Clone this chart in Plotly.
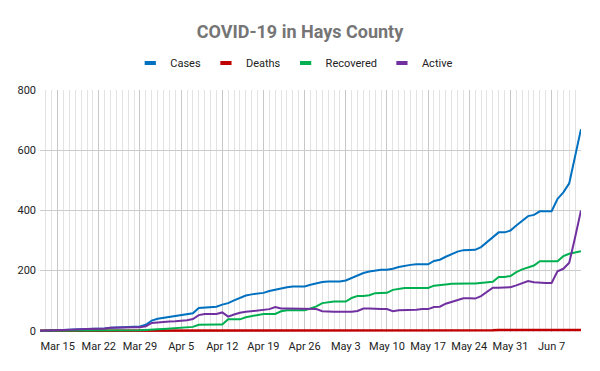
import pandas as pd
import plotly.graph_objects as go

start_date = "2020-03-12"
n_days = 93
dates = pd.date_range(start_date, periods=n_days, freq="D")

cases = [0, 0, 1, 2, 3, 3, 4, 5, 6, 6, 7, 8, 10, 11, 12, 12, 13, 14,
         20, 34, 40, 43, 45, 47, 50, 54, 58, 76, 78, 78, 80, 87, 92, 101, 109, 117, 121, 124,
         126, 132, 137, 142, 145, 147, 147, 147, 153, 158, 162, 164, 164, 164, 167, 176, 183, 192,
         197, 201, 203, 203, 206, 212, 216, 219, 221, 221, 221, 232, 236, 246, 255, 263, 268, 269,
         269, 278, 295, 311, 327, 327, 333, 350, 366, 381, 385, 397, 397, 397, 438, 460, 490, 577, 670]

deaths = [0] * 25 + [1] * 34 + [2] * 19 + [3] * 15

recovered = [0] * 16 + [1, 2,
             3, 5, 5, 6, 7, 8, 9, 11, 13, 20, 21, 21, 21, 21, 38, 38, 38, 45, 48, 52,
             56, 56, 56, 65, 68, 68, 68, 68, 74, 81, 92, 95, 97, 97, 97, 109, 116, 116,
             118, 125, 126, 126, 136, 139, 142, 142, 142, 142, 142, 150, 153, 154, 156, 157, 157, 157,
             157, 159, 163, 163, 179, 179, 182, 195, 204, 211, 217, 231, 231, 231, 231, 248, 256, 260, 264]

active = [0, 0, 1, 2, 3, 3, 4, 5, 6, 6, 7, 8, 10, 11, 12, 12, 12, 12,
          15, 26, 28, 31, 31, 32, 33, 35, 39, 52, 56, 56, 56, 61, 47, 54, 60, 63, 65, 67,
          68, 72, 79, 74, 74, 74, 74, 74, 74, 72, 65, 63, 63, 63, 63, 63, 66, 74,
          74, 72, 72, 72, 65, 68, 68, 68, 70, 72, 72, 79, 80, 90, 96, 104, 108, 108,
          107, 115, 129, 143, 143, 143, 145, 151, 159, 165, 161, 159, 159, 159, 198, 206, 226, 311, 400]

series_names = ["Cases", "Deaths", "Recovered", "Active"]
series_values = [cases, deaths, recovered, active]
series_colors = ["#0070C0", "#C00000", "#00B050", "#7030A0"]
series_widths = [2, 2.5, 2, 2]

tick_dates = pd.date_range("2020-03-15", "2020-06-07", freq="7D")
tick_labels = ["Mar 15", "Mar 22", "Mar 29", "Apr 5", "Apr 12", "Apr 19", "Apr 26",
               "May 3", "May 10", "May 17", "May 24", "May 31", "Jun 7"]
y_ticks = [0, 200, 400, 600, 800]

FONT = "Roboto, Liberation Sans, Arial, sans-serif"

fig = go.Figure()
for name, vals, col, w in zip(series_names, series_values, series_colors, series_widths):
    fig.add_trace(go.Scatter(x=dates, y=vals, mode="lines", name=name,
                             line=dict(color=col, width=w), showlegend=False,
                             legendgroup=name))
for name, col in zip(series_names, series_colors):
    fig.add_trace(go.Scatter(x=[None], y=[None], mode="markers", name=name,
                             marker=dict(symbol="line-ew", size=8, color=col,
                                         line=dict(width=4, color=col)),
                             legendgroup=name))

fig.update_layout(
    width=600, height=371,
    margin=dict(l=40, r=19, t=90, b=39, autoexpand=False),
    paper_bgcolor="white", plot_bgcolor="white",
    title=dict(text="<b>COVID-19 in Hays County</b>", x=0.5, xanchor="center",
               y=1 - 32 / 371, yanchor="middle",
               font=dict(family=FONT, size=18, color="#757575")),
    legend=dict(orientation="h", x=0.47, xanchor="center",
                yref="container", y=1 - 63 / 371, yanchor="middle",
                font=dict(family=FONT, size=11, color="#222222"),
                itemwidth=30, bgcolor="rgba(0,0,0,0)"),
    xaxis=dict(type="date", range=[dates[0], dates[-1]],
               tickmode="array", tickvals=tick_dates, ticktext=tick_labels,
               tickangle=0, ticklabelstandoff=6,
               showgrid=True, gridcolor="#c8c8c8", gridwidth=1,
               minor=dict(tickmode="linear", tick0=start_date, dtick=86400000,
                          showgrid=True, gridcolor="#e3e3e3", gridwidth=1),
               tickfont=dict(family=FONT, size=11, color="#222222"),
               showline=False, zeroline=False, ticks=""),
    yaxis=dict(range=[-4, 800], tickmode="array", tickvals=y_ticks,
               ticklabelstandoff=3,
               showgrid=True, gridcolor="#cccccc", gridwidth=1,
               zeroline=True, zerolinecolor="#b7b7b7", zerolinewidth=1,
               tickfont=dict(family=FONT, size=11, color="#222222"),
               ticks="", showline=False),
)

fig.write_html("out.html", config={"displayModeBar": False},
               post_script="document.body.style.margin='0';document.body.style.overflow='hidden';")
